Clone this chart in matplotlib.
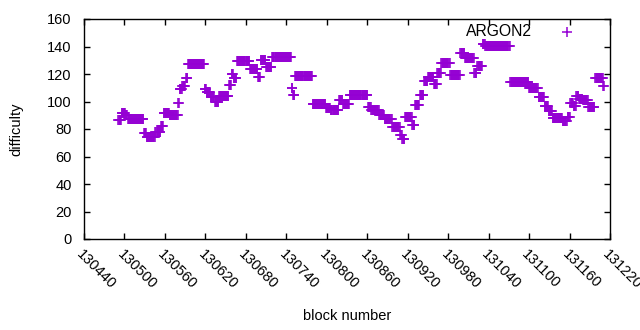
import numpy as np
import matplotlib
matplotlib.use("Agg")
import matplotlib.pyplot as plt

# Runs of constant difficulty: first block of each run and its difficulty.
run_start = [130491, 130496, 130502, 130505, 130529, 130533, 130546, 130554, 130558,
             130567, 130580, 130582, 130586, 130591, 130594, 130619, 130622, 130628,
             130634, 130640, 130655, 130659, 130662, 130667, 130686, 130698, 130702,
             130710, 130719, 130748, 130750, 130753, 130779, 130799, 130806, 130818,
             130824, 130834, 130861, 130866, 130878, 130886, 130897, 130909, 130912,
             130916, 130927, 130931, 130938, 130944, 130950, 130959, 130964, 130970,
             130983, 130998, 131005, 131019, 131023, 131031, 131035, 131072, 131100,
             131114, 131123, 131129, 131135, 131150, 131157, 131161, 131166, 131170,
             131174, 131180, 131188, 131198, 131210]
run_value = [86.5, 91.5, 90.0, 87.5, 77.0, 74.0, 78.0, 82.0, 91.5,
             90.0, 99.0, 109.0, 111.0, 117.0, 127.5, 109.0, 107.0, 103.0,
             99.5, 104.0, 112.0, 120.0, 117.0, 129.5, 124.0, 118.0, 130.0,
             125.0, 132.5, 110.0, 105.0, 118.5, 98.5, 95.5, 93.5, 101.0,
             98.0, 104.5, 96.0, 94.0, 90.0, 87.0, 81.5, 76.0, 73.0,
             88.5, 83.0, 97.5, 105.0, 115.0, 118.0, 113.0, 121.0, 128.0,
             119.0, 135.0, 132.0, 121.0, 126.0, 142.0, 140.4, 114.0, 110.0,
             103.0, 97.0, 93.0, 88.0, 85.5, 89.0, 99.0, 97.0, 104.0,
             102.0, 101.0, 96.0, 117.0, 111.0]
last_block = 131211

x_ticks = list(range(130440, 131221, 60))
y_ticks = list(range(0, 161, 20))
series_name = 'ARGON2'

# expand runs to one value per block
blocks = []
diffs = []
ends = run_start[1:] + [last_block + 1]
for s, e, v in zip(run_start, ends, run_value):
    for b in range(s, e):
        blocks.append(b)
        diffs.append(v)

plt.rcParams['font.family'] = ['Liberation Sans', 'DejaVu Sans']
color = '#9400d3'

fig = plt.figure(figsize=(6.4, 3.3), dpi=100)
ax = fig.add_axes([84/640, 1 - 239/330, 526/640, 220/330])
ax.plot(blocks, diffs, linestyle='none', marker='+', markersize=7,
        markeredgewidth=1.1, color=color)

ax.set_xlim(130440, 131220)
ax.set_ylim(0, 160)
ax.set_xticks(x_ticks)
ax.set_yticks(y_ticks)
ax.set_xticklabels([str(t) for t in x_ticks], rotation=-45, ha='left', va='top',
                   rotation_mode='anchor', fontsize=10.5)
ax.tick_params(axis='y', labelsize=10.5, pad=9)
ax.tick_params(direction='in', length=4, width=1, top=True, right=True, color='black')
ax.tick_params(axis='x', pad=6)
for sp in ax.spines.values():
    sp.set_linewidth(1)
ax.set_xlabel('block number', fontsize=10.5, labelpad=12)
ax.set_ylabel('difficulty', fontsize=10.5, labelpad=17)

# key (legend) placed like the reference
ax.text(0.8517, 0.941, series_name, transform=ax.transAxes, ha='right', va='center',
        fontsize=11.3)
ax.plot([0.918], [0.941], transform=ax.transAxes, linestyle='none', marker='+',
        markersize=7, markeredgewidth=1.1, color=color, clip_on=False)

fig.savefig('out.png', dpi=100)
